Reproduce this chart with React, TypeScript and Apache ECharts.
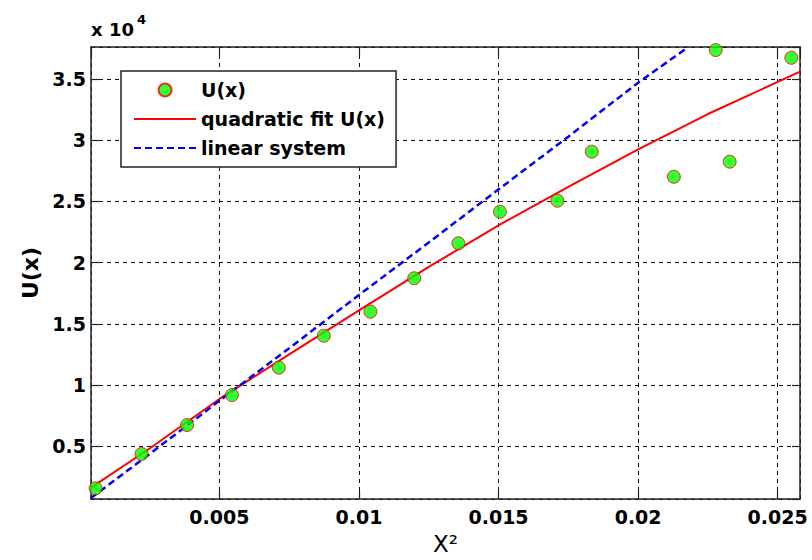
import React, { useEffect, useRef } from "react";
import * as echarts from "echarts";

// Measured data points U(x) vs x^2
const pointsX = [0.000565, 0.00221, 0.00384, 0.00545, 0.00713, 0.00874, 0.01041, 0.01198, 0.01356, 0.01505, 0.01711, 0.01834, 0.02128, 0.02278, 0.02328, 0.02549];
const pointsU = [1545, 4350, 6720, 9170, 11410, 14020, 15990, 18720, 21580, 24160, 25060, 29070, 27020, 37380, 28250, 36750];

// Quadratic fit curve
const fitX = [0.0004, 0.0025, 0.005, 0.0075, 0.01, 0.0125, 0.015, 0.0175, 0.02, 0.0225, 0.0258];
const fitU = [1600, 4800, 8850, 12500, 16100, 19650, 23050, 26200, 29260, 32150, 35610];

// Linear system curve
const linX = [0.0004, 0.0025, 0.005, 0.0075, 0.01, 0.0125, 0.015, 0.0175, 0.02, 0.0218];
const linU = [750, 4350, 8700, 13000, 17350, 21650, 25990, 30300, 34710, 37630];

const seriesNames = ["U(x)", "quadratic fit U(x)", "linear system"];

const X_MIN = 0.0004;
const X_MAX = 0.0258;
const Y_MIN = 670;
const Y_MAX = 37630;

const FONT = "DejaVu Sans";

export default function App() {
  const ref = useRef<HTMLDivElement>(null);

  useEffect(() => {
    if (!ref.current) return;
    const chart = echarts.init(ref.current, undefined, { renderer: "svg" });

    const zip = (xs: number[], ys: number[]) => xs.map((x, i) => [x, ys[i]]);

    const gridLine = { show: true, lineStyle: { color: "#111", width: 1, type: [4, 4] as any } };
    const axisLine = { show: true, lineStyle: { color: "#222", width: 1.5 } };
    const tick = { show: true, inside: true, length: 8, lineStyle: { color: "#222", width: 1.2 } };
    const labelStyle = { color: "#000", fontFamily: FONT, fontWeight: "bold" as const, fontSize: 19 };

    chart.setOption({
      animation: false,
      backgroundColor: "#fff",
      grid: { left: 91, right: 12, top: 47, bottom: 61, outerBoundsMode: "none", containLabel: false },
      graphic: [
        { type: "text", left: 91, top: 20, style: { text: "x 10", font: `bold 18px "${FONT}"`, fill: "#000" } },
        { type: "text", left: 137, top: 13, style: { text: "4", font: `bold 13px "${FONT}"`, fill: "#000" } },
      ],
      legend: {
        orient: "vertical",
        left: 121,
        top: 71,
        itemWidth: 62,
        itemHeight: 13,
        itemGap: 7,
        padding: [8, 11, 8, 12],
        borderColor: "#222",
        borderWidth: 1.5,
        backgroundColor: "#fff",
        textStyle: { color: "#000", fontFamily: FONT, fontWeight: "bold", fontSize: 19, lineHeight: 22 },
        data: [
          { name: seriesNames[0] },
          { name: seriesNames[1], itemStyle: { opacity: 0 } },
          { name: seriesNames[2], itemStyle: { opacity: 0 } },
        ],
      },
      xAxis: [
        {
          type: "value",
          min: X_MIN,
          max: X_MAX,
          name: "X²",
          nameLocation: "middle",
          nameGap: 33,
          nameTextStyle: { color: "#000", fontFamily: FONT, fontSize: 23, lineHeight: 24 },
          axisLine,
          axisTick: tick,
          splitLine: gridLine,
          axisLabel: {
            ...labelStyle,
            margin: 8,
            showMinLabel: false,
            showMaxLabel: false,
            formatter: (v: number) => String(parseFloat(v.toFixed(4))),
          },
        },
        {
          type: "value",
          position: "top",
          min: X_MIN,
          max: X_MAX,
          axisLine,
          axisTick: tick,
          splitLine: { show: false },
          axisLabel: { show: false },
        },
      ],
      yAxis: [
        {
          type: "value",
          min: Y_MIN,
          max: Y_MAX,
          splitNumber: 8,
          name: "U(x)",
          nameLocation: "middle",
          nameGap: 50,
          nameTextStyle: { color: "#000", fontFamily: FONT, fontWeight: "bold", fontSize: 22 },
          axisLine,
          axisTick: tick,
          splitLine: gridLine,
          axisLabel: {
            ...labelStyle,
            margin: 5,
            showMinLabel: false,
            showMaxLabel: false,
            formatter: (v: number) => String(parseFloat((v / 10000).toFixed(2))),
          },
        },
        {
          type: "value",
          position: "right",
          min: Y_MIN,
          max: Y_MAX,
          splitNumber: 8,
          axisLine,
          axisTick: tick,
          splitLine: { show: false },
          axisLabel: { show: false },
        },
      ],
      series: [
        {
          name: seriesNames[0],
          type: "scatter",
          data: zip(pointsX, pointsU),
          symbol: "circle",
          symbolSize: 13,
          itemStyle: { color: "#00ff00", borderColor: "#ff0000", borderWidth: 1 },
          z: 5,
        },
        {
          name: seriesNames[1],
          type: "line",
          data: zip(fitX, fitU),
          showSymbol: false,
          symbol: "none",
          lineStyle: { color: "#ff0000", width: 2 },
          itemStyle: { color: "#ff0000" },
          z: 3,
        },
        {
          name: seriesNames[2],
          type: "line",
          data: zip(linX, linU),
          showSymbol: false,
          symbol: "none",
          lineStyle: { color: "#0000ff", width: 2.5, type: [7, 4] as any },
          itemStyle: { color: "#0000ff" },
          z: 4,
        },
      ],
    });

    return () => chart.dispose();
  }, []);

  return (
    <div
      ref={ref}
      style={{ position: "fixed", left: 0, top: 0, width: 812, height: 560, background: "#fff" }}
    />
  );
}
